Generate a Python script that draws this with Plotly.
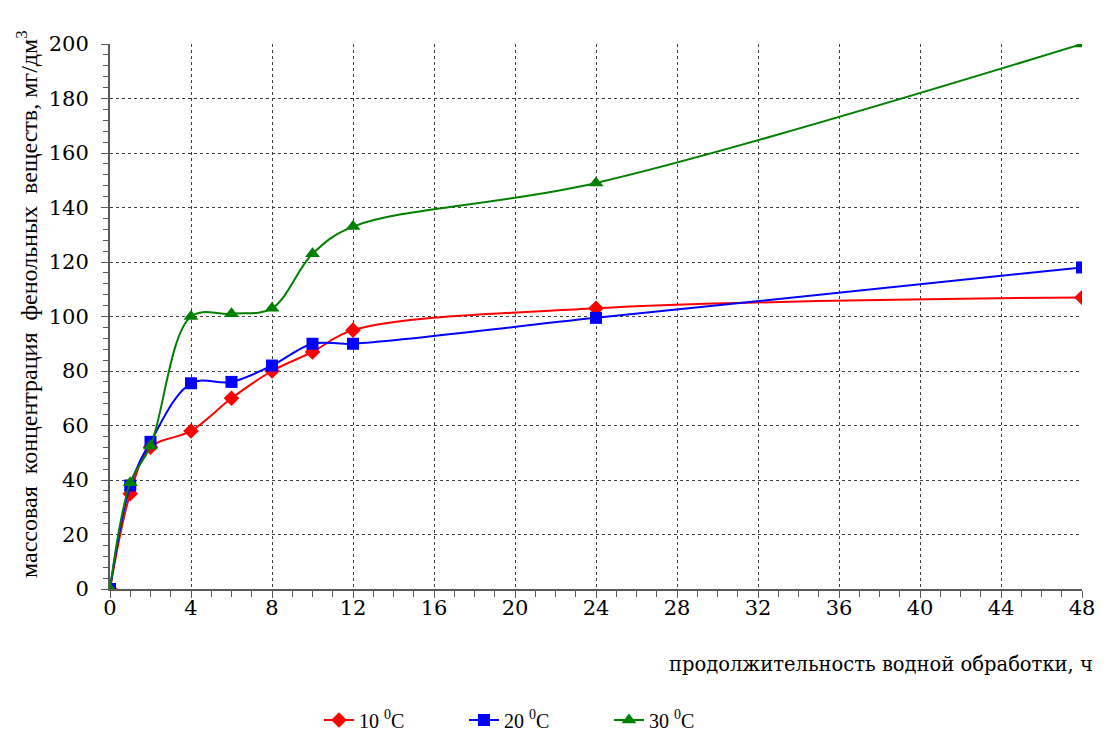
import plotly.graph_objects as go

hours = [0, 1, 2, 4, 6, 8, 10, 12, 24, 48]
t10 = [0, 35, 52, 58, 70, 80, 87, 95, 103, 107]
t20 = [0, 38, 54, 75.5, 76, 82, 90, 90, 99.5, 118]
t30 = [0, 39, 52.5, 100, 101, 103, 123, 133, 149, 200]
names = ["10 <sup>0</sup>C", "20 <sup>0</sup>C", "30 <sup>0</sup>C"]
colors = ["#ff0000", "#0000ff", "#008000"]
symbols = ["diamond", "square", "triangle-up"]
x_ticks = list(range(0, 49, 4))
y_ticks = list(range(0, 201, 20))

WIDE = "DejaVu Serif"
TIMES = "Liberation Serif"
NB = "\u00a0"

fig = go.Figure()
for vals, nm, c, s, sz in zip([t10, t20, t30], names, colors, symbols, [12, 12, 13]):
    fig.add_trace(go.Scatter(
        x=hours, y=vals, name=nm, mode="lines+markers",
        line=dict(color=c, width=2, shape="spline", smoothing=1.0),
        marker=dict(symbol=s, size=sz, color=c),
        hoverinfo="skip",
    ))

axis_common = dict(
    showline=True, linecolor="#595959", linewidth=2,
    showgrid=True, gridcolor="#404040", gridwidth=1, griddash="3px,3px",
    zeroline=False, ticks="outside", ticklen=7, tickcolor="#595959", tickwidth=1,
    tickfont=dict(family=WIDE, size=21, color="black"),
)

fig.update_xaxes(
    range=[0, 48], tickvals=x_ticks, ticktext=[str(v) for v in x_ticks],
    minor=dict(dtick=1, ticks="outside", ticklen=6, tickcolor="#595959", showgrid=False),
    ticklabelstandoff=-8,
    **axis_common,
)
fig.update_yaxes(
    range=[0, 200], tickvals=y_ticks, ticktext=[str(v) for v in y_ticks],
    minor=dict(dtick=4, ticks="outside", ticklen=5, tickcolor="#595959", showgrid=False),
    ticklabelstandoff=8,
    **axis_common,
)

fig.update_layout(
    width=1106, height=738,
    margin=dict(l=110, r=24, t=44, b=149, autoexpand=False),
    plot_bgcolor="white", paper_bgcolor="white",
    font=dict(family=TIMES, size=20, color="black"),
    legend=dict(
        orientation="h", x=0.215, xanchor="left", y=-(720 - 589) / 545, yanchor="middle",
        font=dict(family=TIMES, size=20, color="black"),
        entrywidth=100, entrywidthmode="pixels",
        itemwidth=30,
    ),
    annotations=[
        dict(
            text=f"массовая{NB} концентрация{NB} фенольных{NB} веществ, мг/дм<sup>3</sup>",
            xref="paper", yref="paper", x=-83 / 972, y=(589 - 304) / 545,
            xanchor="center", yanchor="middle", textangle=-90, showarrow=False,
            font=dict(family=TIMES, size=24, color="black"),
        ),
        dict(
            text="продолжительность водной обработки, ч",
            xref="paper", yref="paper", x=1.0 + 13 / 972, y=-(664 - 589) / 545,
            xanchor="right", yanchor="middle", showarrow=False,
            font=dict(family=WIDE, size=19.5, color="black"),
        ),
    ],
)

fig.write_html("out.html")
